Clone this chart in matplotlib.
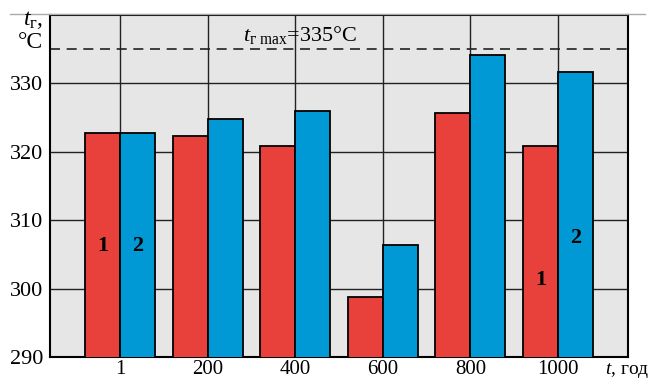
import numpy as np
import matplotlib
matplotlib.use("Agg")
import matplotlib.pyplot as plt
from matplotlib.lines import Line2D

hours = ["1", "200", "400", "600", "800", "1000"]
temp_1 = [322.8, 322.3, 320.8, 298.8, 325.7, 320.9]
temp_2 = [322.8, 324.8, 325.9, 306.4, 334.2, 331.6]
t_max = 335

plt.rcParams["font.family"] = ["Liberation Serif", "DejaVu Serif"]
plt.rcParams["mathtext.fontset"] = "custom"
plt.rcParams["mathtext.rm"] = "Liberation Serif"
plt.rcParams["mathtext.it"] = "Liberation Serif:italic"

fig = plt.figure(figsize=(6.51, 3.81), dpi=100)
ax = fig.add_axes([50 / 651, 1 - 357 / 381, 578 / 651, 342 / 381])
ax.set_facecolor("#e6e6e6")

x = np.arange(len(hours))
w = 0.4
ax.bar(x - w / 2, temp_1, w, color="#e8413c", edgecolor="black", linewidth=1.3, zorder=3)
ax.bar(x + w / 2, temp_2, w, color="#0099d6", edgecolor="black", linewidth=1.3, zorder=3)

ax.set_xlim(-0.8, len(hours) - 0.2)
ax.set_ylim(290, 340)
ax.set_yticks([290, 300, 310, 320, 330])
ax.set_xticks(x)
ax.set_xticklabels(hours)
ax.tick_params(length=0, labelsize=16, pad=5)
ax.tick_params(axis="x", labelsize=15, pad=2)
ax.grid(True, color="#222222", linewidth=1.0, zorder=0)
ax.axhline(t_max, color="#222222", linestyle=(0, (6, 4)), linewidth=1.2, zorder=1)
for s in ax.spines.values():
    s.set_linewidth(1.5)

ax.text(1.40, t_max + 0.5, r"$t_{\mathrm{г\ max}}$=335°C", fontsize=16,
        ha="left", va="bottom", zorder=4)

# series labels inside bars
for xi, yi, lab in [(-w / 2, 306.3, "1"), (w / 2, 306.3, "2"),
                    (5 - w / 2, 301.2, "1"), (5 + w / 2, 307.4, "2")]:
    ax.text(xi, yi, lab, fontsize=16, fontweight="bold", ha="center", va="center", zorder=5)

fig.text(43 / 651, 1 - 42 / 381, "°C", fontsize=17, ha="right", va="center")
fig.text(43 / 651, 1 - 20 / 381, r"$t_{\mathrm{г}}$,", fontsize=17, ha="right", va="center")
fig.text(649 / 651, 1 - 370 / 381, r"$t$, год", fontsize=14, ha="right", va="center")

fig.add_artist(Line2D([10 / 651, 645 / 651], [1 - 14 / 381, 1 - 14 / 381],
                      transform=fig.transFigure, color="#aaaaaa", linewidth=1.0))

fig.savefig("out.png", dpi=100)
